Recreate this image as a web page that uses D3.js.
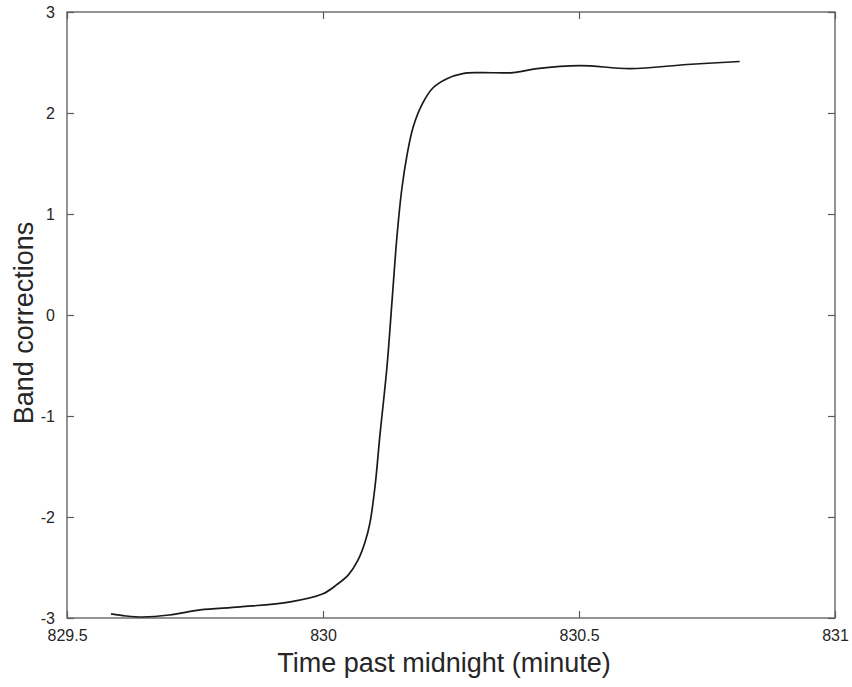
<!DOCTYPE html>
<html>
<head>
<meta charset="utf-8">
<script src="https://cdn.jsdelivr.net/npm/d3@7"></script>
<style>
  body { margin: 0; background: #fff; }
  text { font-family: "Liberation Sans", Arial, sans-serif; fill: #262626; }
</style>
</head>
<body>
<svg id="chart" width="852" height="687"></svg>
<script>
// time past midnight (minute) and band correction
var times = [829.586, 829.615, 829.648, 829.700, 829.760, 829.838, 829.936, 830.000,
  830.027, 830.050, 830.068, 830.082, 830.092, 830.102, 830.111, 830.125,
  830.135, 830.1445, 830.154, 830.164, 830.176, 830.195, 830.215, 830.242,
  830.273, 830.307, 830.371, 830.418, 830.502, 830.600, 830.711, 830.814];
var corrections = [-2.96, -2.98, -2.99, -2.97, -2.92, -2.89, -2.84, -2.76,
  -2.67, -2.57, -2.43, -2.25, -2.05, -1.68, -1.20, -0.51,
  0.15, 0.78, 1.25, 1.58, 1.86, 2.10, 2.25, 2.34,
  2.39, 2.40, 2.40, 2.44, 2.47, 2.44, 2.48, 2.51];
var xTicks = [829.5, 830, 830.5, 831];
var yTicks = [-3, -2, -1, 0, 1, 2, 3];

var margin = {left: 67, right: 17, top: 12, bottom: 69};
var W = 852, H = 687;
var svg = d3.select('#chart');

var x = d3.scaleLinear().domain([829.5, 831]).range([margin.left, W - margin.right]);
var y = d3.scaleLinear().domain([-3, 3]).range([H - margin.bottom, margin.top]);

var axisColor = '#5a5a5a';
var labelColor = '#303030';
var tickLen = 7;
var fmt = function(d) { return String(d); }; // plain hyphen minus, like MATLAB

// box
svg.append('rect')
    .attr('x', x.range()[0]).attr('y', y.range()[1])
    .attr('width', x.range()[1] - x.range()[0])
    .attr('height', y.range()[0] - y.range()[1])
    .attr('fill', 'none')
    .attr('stroke', axisColor)
    .attr('stroke-width', 1.3);

// inward ticks on all four sides
function styleAxis(g) {
    g.select('.domain').remove();
    g.selectAll('line').attr('stroke', axisColor).attr('stroke-width', 1.2);
    g.selectAll('text').style('font-size', '16px').attr('fill', labelColor);
}

svg.append('g')
    .attr('transform', 'translate(0,' + y.range()[0] + ')')
    .call(d3.axisBottom(x).tickValues(xTicks).tickFormat(fmt).tickSizeInner(-tickLen).tickSizeOuter(0).tickPadding(12))
    .call(styleAxis);

svg.append('g')
    .attr('transform', 'translate(0,' + y.range()[1] + ')')
    .call(d3.axisTop(x).tickValues(xTicks).tickFormat('').tickSizeInner(-tickLen).tickSizeOuter(0))
    .call(styleAxis);

svg.append('g')
    .attr('transform', 'translate(' + x.range()[0] + ',0)')
    .call(d3.axisLeft(y).tickValues(yTicks).tickFormat(fmt).tickSizeInner(-tickLen).tickSizeOuter(0).tickPadding(12))
    .call(styleAxis);

svg.append('g')
    .attr('transform', 'translate(' + x.range()[1] + ',0)')
    .call(d3.axisRight(y).tickValues(yTicks).tickFormat('').tickSizeInner(-tickLen).tickSizeOuter(0))
    .call(styleAxis);

// curve
var pts = times.map(function(t, i) { return [t, corrections[i]]; });
var line = d3.line()
    .x(function(d) { return x(d[0]); })
    .y(function(d) { return y(d[1]); })
    .curve(d3.curveCatmullRom.alpha(0.5));

svg.append('path')
    .datum(pts)
    .attr('d', line)
    .attr('fill', 'none')
    .attr('stroke', '#1a1a1a')
    .attr('stroke-width', 1.7);

// axis labels
svg.append('text')
    .attr('x', (x.range()[0] + x.range()[1]) / 2 - 7)
    .attr('y', 672)
    .attr('text-anchor', 'middle')
    .attr('fill', labelColor)
    .style('font-size', '27px')
    .text('Time past midnight (minute)');

svg.append('text')
    .attr('transform', 'translate(33,' + ((y.range()[0] + y.range()[1]) / 2 + 8) + ') rotate(-90)')
    .attr('text-anchor', 'middle')
    .attr('fill', labelColor)
    .style('font-size', '27px')
    .text('Band corrections');
</script>
</body>
</html>
